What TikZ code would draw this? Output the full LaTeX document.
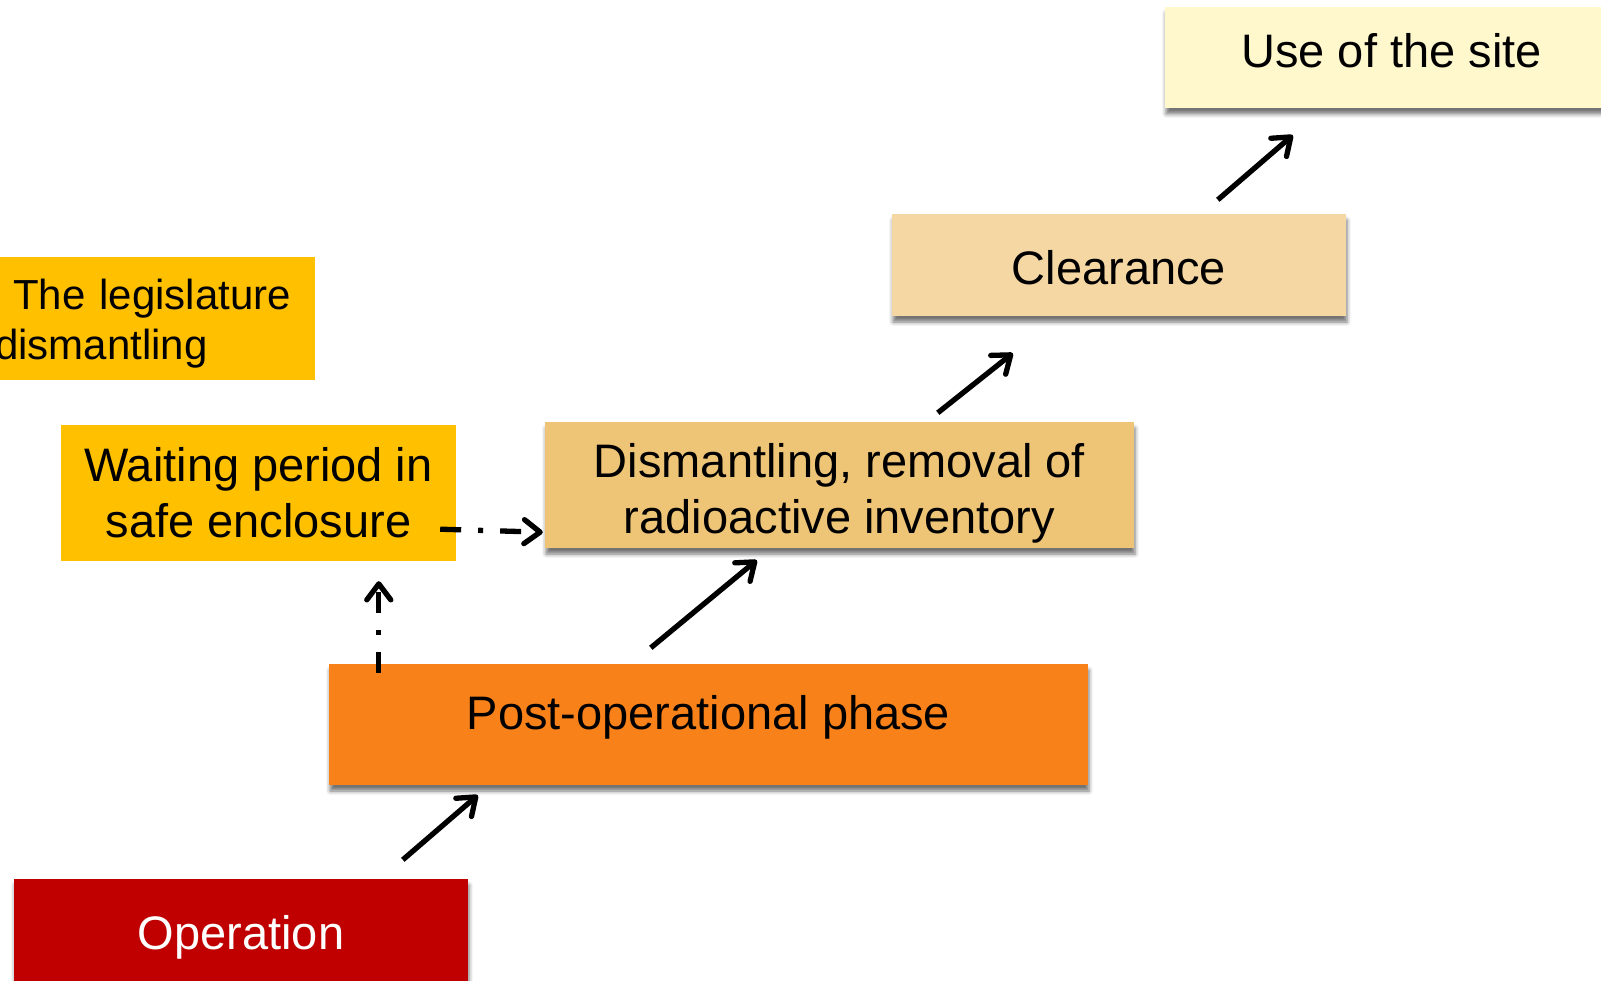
\documentclass[tikz,border=0pt]{standalone}
\usepackage{fontspec}
\setmainfont{Liberation Sans}
\usetikzlibrary{arrows.meta,shadows.blur}
\definecolor{useC}{HTML}{FFF8CC}
\definecolor{clearC}{HTML}{F5D7A3}
\definecolor{dismC}{HTML}{EEC477}
\definecolor{waitC}{HTML}{FFC000}
\definecolor{postC}{HTML}{F88219}
\definecolor{opC}{HTML}{C00000}
\tikzset{
  box/.style={rectangle, inner sep=0pt, draw=none},
  txt/.style={inner sep=0pt, align=center, font=\fontsize{47}{56}\selectfont},
  shad/.style={blur shadow={shadow xshift=1pt, shadow yshift=-6pt, shadow blur radius=4pt, shadow opacity=55}},
  arr/.style={line width=5.3pt, -{Straight Barb[length=16pt,width=24pt,round]}},
  dasharr/.style={arr, dash pattern=on 21pt off 17pt on 5pt off 17pt},
}
\begin{document}
\begin{tikzpicture}[x=1pt,y=-1pt]
\useasboundingbox (0,0) rectangle (1601,981);
\clip (0,0) rectangle (1601,981);
\node[box, shad, fill=useC, minimum width=453pt, minimum height=101pt,
  label={[txt, name=useT, yshift=7pt]center:{Use of the site}}] (use) at (1391.5,57.5) {};
\node[box, shad, fill=clearC, minimum width=454pt, minimum height=102pt,
  label={[txt, name=clearT, yshift=-3pt]center:{Clearance}}] (clear) at (1119,265) {};
\node[box, shad, fill=dismC, minimum width=589pt, minimum height=126pt,
  label={[txt, name=dismT, yshift=-8pt]center:{Dismantling, removal of\\radioactive inventory}}] (dism) at (839.5,485) {};
\node[box, fill=waitC, minimum width=395pt, minimum height=136pt,
  label={[txt, name=waitT]center:{Waiting period in\\safe enclosure}}] (wait) at (258.5,493) {};
\node[box, fill=waitC, minimum width=327pt, minimum height=123pt,
  label={[txt, name=legisT, text width=313pt, align=left, yshift=-5.5pt, font=\fontsize{42}{50}\selectfont]center:{\hspace*{18pt}The legislature\\dismantling}}] (legis) at (151.5,318.5) {};
\node[box, shad, fill=postC, minimum width=759pt, minimum height=121pt,
  label={[txt, name=postT, yshift=7pt]center:{Post-operational phase}}] (post) at (708.5,724.5) {};
\node[box, shad, fill=opC, minimum width=454pt, minimum height=129pt,
  label={[txt, name=opT, text=white, yshift=6pt]center:{Operation}}] (op) at (241,943.5) {};
% connectors
\draw[arr] ([xshift=389pt,yshift=19pt]op.north west) -- ([xshift=149pt,yshift=-10pt]post.south west);
\draw[arr] ([xshift=322pt,yshift=16pt]post.north west) -- ([xshift=212pt,yshift=-12pt]dism.south west);
\draw[arr] ([xshift=393pt,yshift=9pt]dism.north west) -- ([xshift=121pt,yshift=-37pt]clear.south west);
\draw[arr] ([xshift=326pt,yshift=14pt]clear.north west) -- ([xshift=128pt,yshift=-27pt]use.south west);
\draw[dasharr] ([xshift=-16pt,yshift=32pt]wait.south east) -- ([xshift=-2pt,yshift=16pt]dism.south west);
\draw[dasharr] ([xshift=50pt,yshift=-9pt]post.north west) -- ([xshift=318pt,yshift=-20pt]wait.south west);
\end{tikzpicture}
\end{document}
